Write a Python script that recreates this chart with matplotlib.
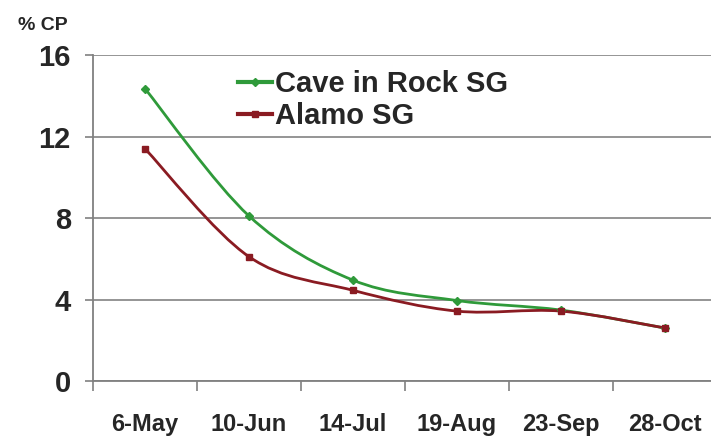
"""Crude protein trend for two switchgrass cultivars, smoothed lines like Excel."""

import matplotlib
matplotlib.use('Agg')
import matplotlib.pyplot as plt
from matplotlib.path import Path
from matplotlib.patches import PathPatch
from matplotlib.lines import Line2D

dates = ['6-May', '10-Jun', '14-Jul', '19-Aug', '23-Sep', '28-Oct']
cave_in_rock = [14.35, 8.1, 4.95, 3.95, 3.48, 2.6]
alamo = [11.4, 6.1, 4.45, 3.43, 3.43, 2.6]

plt.rcParams['font.family'] = ['Liberation Sans', 'DejaVu Sans']
plt.rcParams['font.weight'] = 'bold'


def smooth_path(xs, ys):
    # cubic bezier through every point, tangents from neighbours
    verts = [(xs[0], ys[0])]
    codes = [Path.MOVETO]
    n = len(xs)
    for i in range(n - 1):
        x0, y0 = xs[i], ys[i]
        x1, y1 = xs[i + 1], ys[i + 1]
        xp, yp = (xs[i - 1], ys[i - 1]) if i > 0 else (x0, y0)
        xn, yn = (xs[i + 2], ys[i + 2]) if i + 2 < n else (x1, y1)
        c1 = (x0 + (x1 - xp) / 6.0, y0 + (y1 - yp) / 6.0)
        c2 = (x1 - (xn - x0) / 6.0, y1 - (yn - y0) / 6.0)
        verts += [c1, c2, (x1, y1)]
        codes += [Path.CURVE4] * 3
    return Path(verts, codes)


def main():
    fig = plt.figure(figsize=(7.11, 4.36), dpi=100)
    ax = fig.add_axes([93 / 711, 55 / 436, 624 / 711, 326 / 436])

    series = [
        ('Cave in Rock SG', cave_in_rock, '#2f9a3a', 'D'),
        ('Alamo SG', alamo, '#8a1b22', 's'),
    ]
    xs = list(range(len(dates)))
    handles = []
    for name, vals, col, mk in series:
        ax.add_patch(PathPatch(smooth_path(xs, vals), facecolor='none',
                               edgecolor=col, lw=2.0, capstyle='round'))
        ax.plot(xs, vals, linestyle='none', marker=mk, ms=4.5, color=col)
        handles.append(Line2D([], [], color=col, lw=3, marker=mk, ms=4.5))

    ax.set_xlim(-0.5, len(dates) - 0.5)
    ax.set_ylim(0, 16)
    ax.set_yticks([0, 4, 8, 12, 16])
    ax.set_xticks(xs)
    ax.set_xticklabels(dates)
    ax.set_xticks([i - 0.5 for i in range(len(dates))], minor=True)

    ax.tick_params(axis='x', which='major', length=0, pad=23, labelsize=17,
                   labelcolor='#262626')
    ax.tick_params(axis='x', which='minor', length=7, width=1.2, color='#808080',
                   direction='out')
    ax.tick_params(axis='y', length=6, width=1.2, color='#808080', pad=10,
                   labelsize=21, labelcolor='#262626')

    ax.grid(axis='y', color='#8c8c8c', lw=1.3)
    ax.set_axisbelow(True)
    for s in ['top', 'right']:
        ax.spines[s].set_visible(False)
    for s in ['left', 'bottom']:
        ax.spines[s].set_color('#808080')
        ax.spines[s].set_linewidth(1.3)

    leg = ax.legend(handles, [s[0] for s in series], loc='upper left',
                    bbox_to_anchor=(0.214, 0.99), frameon=False, fontsize=21,
                    handlelength=1.15, handletextpad=0.1, labelspacing=0.15,
                    borderaxespad=0)
    for t in leg.get_texts():
        t.set_color('#262626')

    fig.text(43 / 711, 1 - 25 / 436, '% CP', ha='center', va='center',
             fontsize=14, fontweight='bold', color='#262626')

    fig.savefig('out.png', dpi=100)
    plt.close(fig)


if __name__ == '__main__':
    main()
